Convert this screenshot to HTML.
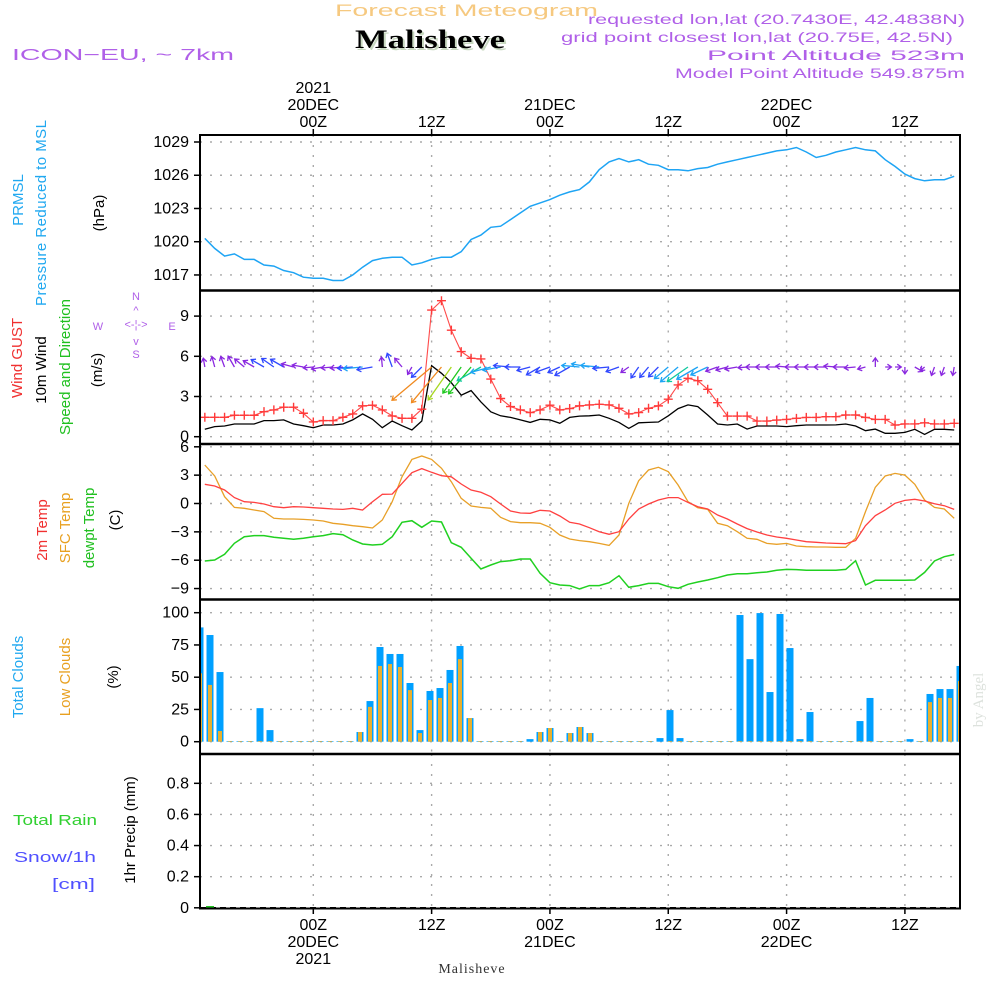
<!DOCTYPE html>
<html><head><meta charset="utf-8"><style>
body{margin:0;background:#fff;}
svg{display:block;font-family:"Liberation Sans",sans-serif;}
</style></head><body>
<svg id="chart" width="1000" height="1000" viewBox="0 0 1000 1000" xmlns="http://www.w3.org/2000/svg">
<rect width="1000" height="1000" fill="#fff"/>
<text x="335" y="16" font-size="17" fill="#f6c980" textLength="263" lengthAdjust="spacingAndGlyphs">Forecast Meteogram</text>
<text x="357" y="50" font-family="Liberation Serif,serif" font-weight="bold" font-size="26" fill="#c8d8c0" textLength="150" lengthAdjust="spacingAndGlyphs">Malisheve</text>
<text x="355" y="48" font-family="Liberation Serif,serif" font-weight="bold" font-size="26" fill="#000" textLength="150" lengthAdjust="spacingAndGlyphs">Malisheve</text>
<text x="12" y="60" font-size="16" fill="#b060e8" textLength="222" lengthAdjust="spacingAndGlyphs">ICON−EU,  ~  7km</text>
<g font-size="14" fill="#b060e8" lengthAdjust="spacingAndGlyphs">
<text x="588" y="24" textLength="377" lengthAdjust="spacingAndGlyphs">requested lon,lat (20.7430E, 42.4838N)</text>
<text x="561" y="42" textLength="392" lengthAdjust="spacingAndGlyphs">grid point closest lon,lat (20.75E, 42.5N)</text>
<text x="707" y="60" textLength="258" lengthAdjust="spacingAndGlyphs">Point Altitude 523m</text>
<text x="675" y="78" textLength="290" lengthAdjust="spacingAndGlyphs">Model Point Altitude 549.875m</text>
</g>
<g id="grid"></g>
<g id="marks"></g>
<g id="axes"></g>
<g font-size="15">
<text transform="translate(23,200) rotate(-90)" text-anchor="middle" fill="#20a8f0">PRMSL</text>
<text transform="translate(46,213) rotate(-90)" text-anchor="middle" fill="#20a8f0" textLength="186">Pressure Reduced to MSL</text>
<text transform="translate(104,213) rotate(-90)" text-anchor="middle" fill="#000">(hPa)</text>
<text transform="translate(22,358) rotate(-90)" text-anchor="middle" fill="#f03030">Wind GUST</text>
<text transform="translate(46,370) rotate(-90)" text-anchor="middle" fill="#000">10m Wind</text>
<text transform="translate(70,367) rotate(-90)" text-anchor="middle" fill="#20c020">Speed and Direction</text>
<text transform="translate(102,370) rotate(-90)" text-anchor="middle" fill="#000">(m/s)</text>
<text transform="translate(47,530) rotate(-90)" text-anchor="middle" fill="#f03030">2m Temp</text>
<text transform="translate(70,528) rotate(-90)" text-anchor="middle" fill="#e8a020">SFC Temp</text>
<text transform="translate(94,528) rotate(-90)" text-anchor="middle" fill="#20c020">dewpt Temp</text>
<text transform="translate(120,520) rotate(-90)" text-anchor="middle" fill="#000">(C)</text>
<text transform="translate(23,677) rotate(-90)" text-anchor="middle" fill="#20a8f0">Total Clouds</text>
<text transform="translate(70,677) rotate(-90)" text-anchor="middle" fill="#e8a020">Low Clouds</text>
<text transform="translate(118,677) rotate(-90)" text-anchor="middle" fill="#000">(%)</text>
<text x="13" y="825" fill="#30d030" textLength="84" lengthAdjust="spacingAndGlyphs">Total   Rain</text>
<text x="14" y="862" fill="#5050ff" textLength="82" lengthAdjust="spacingAndGlyphs">Snow/1h</text>
<text x="52" y="889" fill="#5050ff" textLength="43" lengthAdjust="spacingAndGlyphs">[cm]</text>
<text transform="translate(135,830) rotate(-90)" text-anchor="middle" fill="#000">1hr Precip (mm)</text>
</g>
<g font-size="11" fill="#b060e8" text-anchor="middle">
<text x="136" y="300">N</text><text x="136" y="358">S</text><text x="98" y="330">W</text><text x="172" y="330">E</text>
<text x="136" y="328">&lt;-¦-&gt;</text><text x="136" y="314">^</text><text x="136" y="345">v</text>
</g>
<text x="472" y="973" text-anchor="middle" font-family="Liberation Serif,serif" font-size="14" fill="#333" letter-spacing="1">Malisheve</text>
<text transform="translate(983,700) rotate(-90)" text-anchor="middle" font-family="Liberation Serif,serif" font-size="15" fill="#dde2dd">by Angel</text>
</svg>
<script>
const hours = [];
for (let h = -11; h <= 65; h++) hours.push(h);
const pressure = [1020.3,1019.4,1018.7,1018.9,1018.4,1018.4,1017.9,1017.8,1017.4,1017.2,1016.8,1016.7,1016.7,1016.5,1016.5,1017.0,1017.7,1018.3,1018.5,1018.6,1018.6,1017.9,1018.1,1018.4,1018.6,1018.6,1019.1,1020.2,1020.6,1021.3,1021.4,1022.0,1022.6,1023.2,1023.5,1023.8,1024.2,1024.5,1024.7,1025.4,1026.5,1027.2,1027.5,1027.2,1027.4,1027.0,1026.9,1026.5,1026.5,1026.4,1026.6,1026.7,1027.0,1027.2,1027.4,1027.6,1027.8,1028.0,1028.2,1028.3,1028.5,1028.1,1027.6,1027.8,1028.1,1028.3,1028.5,1028.3,1028.2,1027.4,1026.8,1026.1,1025.7,1025.5,1025.6,1025.6,1025.9];
const gust = [1.45,1.45,1.45,1.6,1.6,1.6,1.87,2.0,2.2,2.2,1.75,1.1,1.2,1.2,1.45,1.7,2.3,2.35,2.0,1.55,1.37,1.37,2.05,9.45,10.15,7.95,6.35,5.85,5.8,4.3,2.85,2.25,2.0,1.8,2.0,2.35,2.0,2.1,2.3,2.37,2.42,2.37,2.12,1.7,1.8,2.12,2.3,2.8,3.86,4.36,4.18,3.54,2.54,1.54,1.54,1.54,1.17,1.17,1.24,1.29,1.37,1.44,1.44,1.49,1.49,1.62,1.62,1.44,1.29,1.29,0.87,0.95,0.95,1.04,0.95,0.95,1.0];
const wind = [0.55,0.75,0.8,0.95,0.95,0.95,1.2,1.2,1.25,0.95,0.82,0.67,0.87,0.87,0.95,1.25,1.7,1.3,0.67,1.17,0.82,0.5,1.17,5.3,4.73,4.03,3.1,3.44,2.6,1.86,1.56,1.44,1.25,1.07,1.3,1.25,1.0,1.44,1.54,1.56,1.62,1.37,1.07,0.62,1.04,1.07,1.1,1.56,2.1,2.37,2.25,1.62,0.95,0.87,0.95,0.57,0.8,0.8,0.8,0.75,0.82,0.87,0.87,0.87,0.88,0.95,0.8,0.45,0.57,0.25,0.25,0.32,0.55,0.17,0.55,0.55,0.5];
const windDir = [350,345,340,330,310,300,300,305,300,285,280,265,260,265,265,265,265,260,355,340,320,210,225,230,220,215,215,220,240,255,260,275,270,255,240,250,245,240,275,280,275,265,250,235,215,220,225,230,230,235,240,245,250,255,260,265,270,270,270,275,270,270,270,270,275,270,265,255,0,90,90,180,120,230,200,200,190];
const temp2m = [2.03,1.85,1.43,0.62,0.19,0.12,-0.05,-0.34,-0.44,-0.34,-0.37,-0.44,-0.51,-0.58,-0.62,-0.51,-0.69,0.19,0.97,1.0,2.13,3.26,3.69,3.3,2.94,2.83,2.06,1.43,1.18,0.72,-0.05,-0.79,-1.0,-1.04,-0.72,-0.79,-1.32,-1.99,-2.17,-2.56,-2.98,-3.26,-2.98,-1.64,-0.58,-0.05,0.37,0.62,0.62,0.12,-0.34,-0.58,-1.22,-1.64,-2.17,-2.66,-3.02,-3.33,-3.54,-3.68,-3.86,-4.04,-4.11,-4.18,-4.22,-4.25,-3.93,-2.35,-1.29,-0.69,0.02,0.33,0.44,0.26,-0.02,-0.23,-0.62];
const tempSfc = [4.07,2.91,0.72,-0.41,-0.51,-0.69,-0.86,-1.57,-1.64,-1.64,-1.68,-1.75,-1.85,-2.1,-2.2,-2.35,-2.45,-2.59,-1.75,0.19,2.83,4.67,5.03,4.67,3.72,2.31,0.55,-0.26,-0.41,-0.51,-1.46,-1.92,-2.03,-2.03,-2.1,-2.52,-3.33,-3.76,-3.93,-4.04,-4.22,-4.43,-3.33,0.02,2.41,3.54,3.83,3.37,1.96,0.19,-0.44,-0.62,-2.1,-2.35,-2.98,-3.68,-3.79,-4.22,-4.32,-4.22,-4.5,-4.57,-4.6,-4.6,-4.64,-4.64,-3.68,-0.86,1.71,2.91,3.19,3.01,2.03,0.37,-0.41,-0.58,-1.57];
const dewpt = [-6.08,-5.98,-5.38,-4.21,-3.51,-3.4,-3.4,-3.58,-3.68,-3.79,-3.68,-3.51,-3.4,-3.19,-3.3,-3.86,-4.29,-4.39,-4.32,-3.51,-1.99,-1.82,-2.52,-1.85,-1.96,-4.15,-4.64,-5.8,-6.93,-6.51,-6.15,-6.05,-5.87,-5.87,-7.39,-8.38,-8.62,-8.69,-9.05,-8.69,-8.69,-8.38,-7.64,-8.87,-8.69,-8.45,-8.45,-8.8,-8.97,-8.55,-8.31,-8.1,-7.85,-7.57,-7.43,-7.43,-7.32,-7.25,-7.07,-6.97,-7.0,-7.07,-7.07,-7.07,-7.07,-6.97,-6.05,-8.62,-8.13,-8.13,-8.13,-8.13,-8.1,-7.29,-6.08,-5.63,-5.4];
const totalClouds = [88.6,82.7,54,0.5,0.5,0.5,26,9,0.5,0.5,0.5,0.5,0.5,0.5,0.5,0.5,7.5,31.5,73.4,68,68,45.5,9,39.3,41.6,55.6,74.2,18.3,0.5,0.5,0.5,0.5,0.5,2,7.5,10.6,0.5,6.7,11.4,6.7,0.5,0.5,0.5,0.5,0.5,0.5,2.8,24.5,2.8,0.5,0.5,0.5,0.5,0.5,98.2,64,99.7,38.5,99,72.6,2,23,0.5,0.5,0.5,0.5,16,33.9,0.5,0.5,0.5,2,0.5,37,40.8,40.8,58.7];
const lowClouds = [53,44,8.3,0.5,0.5,0.5,0.5,0.5,0.5,0.5,0.5,0.5,0.5,0.5,0.5,0.5,7.5,27,58.7,60.2,57.9,40,6.7,32.3,33.9,45.5,64,18.3,0.5,0.5,0.5,0.5,0.5,0,7.5,10.6,0.5,6.7,11.4,6.7,0.5,0.5,0.5,0.5,0.5,0.5,0,0.5,0.5,0.5,0.5,0.5,0.5,0.5,0.5,0.5,0.5,0.5,0.5,0.5,0.5,0.5,0.5,0.5,0.5,0.5,0.5,0.5,0.5,0.5,0.5,0,0.5,30.7,33.9,33.9,47];
const precip = [0,0.005,0,0,0,0,0,0,0,0,0,0,0,0,0,0,0,0,0,0,0,0,0,0,0,0,0,0,0,0,0,0,0,0,0,0,0,0,0,0,0,0,0,0,0,0,0,0,0,0,0,0,0,0,0,0,0,0,0,0,0,0,0,0,0,0,0,0,0,0,0,0,0,0,0,0,0];
const pressureTicks = [1017,1020,1023,1026,1029];
const windTicks = [0,3,6,9];
const tempTicks = [-9,-6,-3,0,3,6];
const cloudTicks = [0,25,50,75,100];
const precipTicks = [0,0.2,0.4,0.6,0.8];
const timeTicks = [0,12,24,36,48,60];
const topTimeLabels = [["2021","20DEC","00Z"],["12Z"],["21DEC","00Z"],["12Z"],["22DEC","00Z"],["12Z"]];
const bottomTimeLabels = [["00Z","20DEC","2021"],["12Z"],["00Z","21DEC"],["12Z"],["00Z","22DEC"],["12Z"]];

const NS='http://www.w3.org/2000/svg';
const L=200,R=960;
const xH=h=>313.3+9.86*h;
const yP=p=>142+(1029-p)*11.08;
const yW=v=>436.7-13.4*v;
const yT=t=>503.5-9.45*t;
const yC=c=>741.7-1.29*c;
const yR=p=>907.8-155.6*p;
const panels=[{top:135,bot:290.5,ticks:pressureTicks,y:yP,fmt:v=>v,name:'pressure'},
{top:290.5,bot:444,ticks:windTicks,y:yW,fmt:v=>v,name:'wind'},
{top:444,bot:599.5,ticks:tempTicks,y:yT,fmt:v=>v<0?'−'+(-v):v,name:'temperature'},
{top:599.5,bot:754,ticks:cloudTicks,y:yC,fmt:v=>v,name:'clouds'},
{top:754,bot:908.5,ticks:precipTicks,y:yR,fmt:v=>v,name:'precip'}];
function mk(tag,attrs,parent){const e=document.createElementNS(NS,tag);for(const k in attrs)e.setAttribute(k,attrs[k]);parent.appendChild(e);return e;}
const grid=document.getElementById('grid'),marks=document.getElementById('marks'),axes=document.getElementById('axes');
const defs=mk('defs',{},document.getElementById('chart'));
const cp=mk('clipPath',{id:'plotclip'},defs);mk('rect',{x:L,y:135,width:R-L,height:774},cp);
marks.setAttribute('clip-path','url(#plotclip)');
panels.forEach(p=>{
  p.ticks.forEach(t=>{
    const y=p.y(t);
    const g=mk('line',{x1:L,x2:R,y1:y,y2:y,stroke:'#aaa','stroke-width':1.4,'stroke-dasharray':'2,8'},grid);
    
    
    const tk=mk('line',{x1:L-6,x2:L,y1:y,y2:y,stroke:'#000','stroke-width':1.5},axes);
    
    
    const tx=mk('text',{x:L-11,y:y+5,'text-anchor':'end','font-size':16,fill:'#000'},axes);
    tx.textContent=p.fmt(t);
    
    
  });
  timeTicks.forEach(h=>{
    const x=xH(h);
    const g=mk('line',{x1:x,x2:x,y1:p.top,y2:p.bot,stroke:'#aaa','stroke-width':1.4,'stroke-dasharray':'2,8'},grid);
    
    
  });
});
timeTicks.forEach((h,i)=>{
  const x=xH(h);
  mk('line',{x1:x,x2:x,y1:129,y2:135,stroke:'#000','stroke-width':1.5},axes);
  mk('line',{x1:x,x2:x,y1:908,y2:914,stroke:'#000','stroke-width':1.5},axes);
  const tl=topTimeLabels[i];
  tl.forEach((s,j)=>{const t=mk('text',{x:x,y:127-(tl.length-1-j)*17,'text-anchor':'middle','font-size':16,fill:'#000'},axes);t.textContent=s;
    
    });
  bottomTimeLabels[i].forEach((s,j)=>{const t=mk('text',{x:x,y:930+j*17,'text-anchor':'middle','font-size':16,fill:'#000'},axes);t.textContent=s;
    
    });
});
mk('rect',{x:L,y:135,width:R-L,height:773.5,fill:'none',stroke:'#000','stroke-width':2},axes);
[290.5,444,599.5,754].forEach(y=>mk('line',{x1:L,x2:R,y1:y,y2:y,stroke:'#000','stroke-width':2.5},axes));

function line(vals,yf,color,name,w){
  const pts=vals.map((v,i)=>xH(hours[i]).toFixed(1)+','+yf(v).toFixed(1)).join(' ');
  const e=mk('polyline',{points:pts,fill:'none',stroke:color,'stroke-width':w||1.3},marks);
  
  
}
line(pressure,yP,'#1ea4f4','pressure-line',1.5);
line(wind,yW,'#000','wind-speed-line',1.3);
line(gust,yW,'#ff4a4a','wind-gust-line',1.1);
gust.forEach((v,i)=>{
  const x=xH(hours[i]),y=yW(v);
  const m=mk('path',{d:`M${x-4.5},${y}h9M${x},${y-4.5}v9`,stroke:'#ff3a3a','stroke-width':1.4},marks);
  
  
});
function wcol(s){if(s>=4.5)return'#f08a20';if(s>=3.8)return'#a8d820';if(s>=2.9)return'#20c820';if(s>=2.3)return'#10c8a0';if(s>=1.5)return'#1ea4f4';if(s>=1.0)return'#3048ff';return'#8a28e0';}
wind.forEach((s,i)=>{
  const x0=xH(hours[i]),y0=367,len=4+9*s,b=windDir[i]*Math.PI/180;
  const dx=Math.sin(b),dy=-Math.cos(b);
  const x1=x0+dx*len,y1=y0+dy*len;
  const a=4,px=-dy,py=dx;
  const c=wcol(s);
  const d=`M${x0},${y0}L${x1},${y1}M${x1-dx*a+px*a*0.7},${y1-dy*a+py*a*0.7}L${x1},${y1}L${x1-dx*a-px*a*0.7},${y1-dy*a-py*a*0.7}`;
  const e=mk('path',{d:d,stroke:c,'stroke-width':1.3,fill:'none'},marks);
  
  
});
line(tempSfc,yT,'#e8a028','sfc-temp-line',1.3);
line(temp2m,yT,'#ff4040','temp-2m-line',1.3);
line(dewpt,yT,'#20d020','dewpoint-line',1.5);
const bx=k=>200+10*k;
totalClouds.forEach((v,k)=>{
  const x=bx(k),y=yC(v);
  const b=mk('rect',{x:x-3.5,y:y,width:7,height:yC(0)-y,fill:'#00a0ff'},marks);
  
  
  const lv=lowClouds[k],ly=yC(lv);
  const o=mk('rect',{x:x-2,y:ly,width:4,height:yC(0)-ly,fill:'#e8b030'},marks);
  
  
});
const zl=mk('line',{x1:L,x2:R,y1:yR(0),y2:yR(0),stroke:'#000','stroke-width':1.5,'stroke-dasharray':'6,4'},marks);


precip.forEach((v,i)=>{ if(v>0){
  const x=bx(i),y=yR(v);
  const r=mk('rect',{x:x-4,y:y-1,width:8,height:yR(0)-y+1,fill:'#20c020'},marks);
  
  
}});
</script>
</body></html>
